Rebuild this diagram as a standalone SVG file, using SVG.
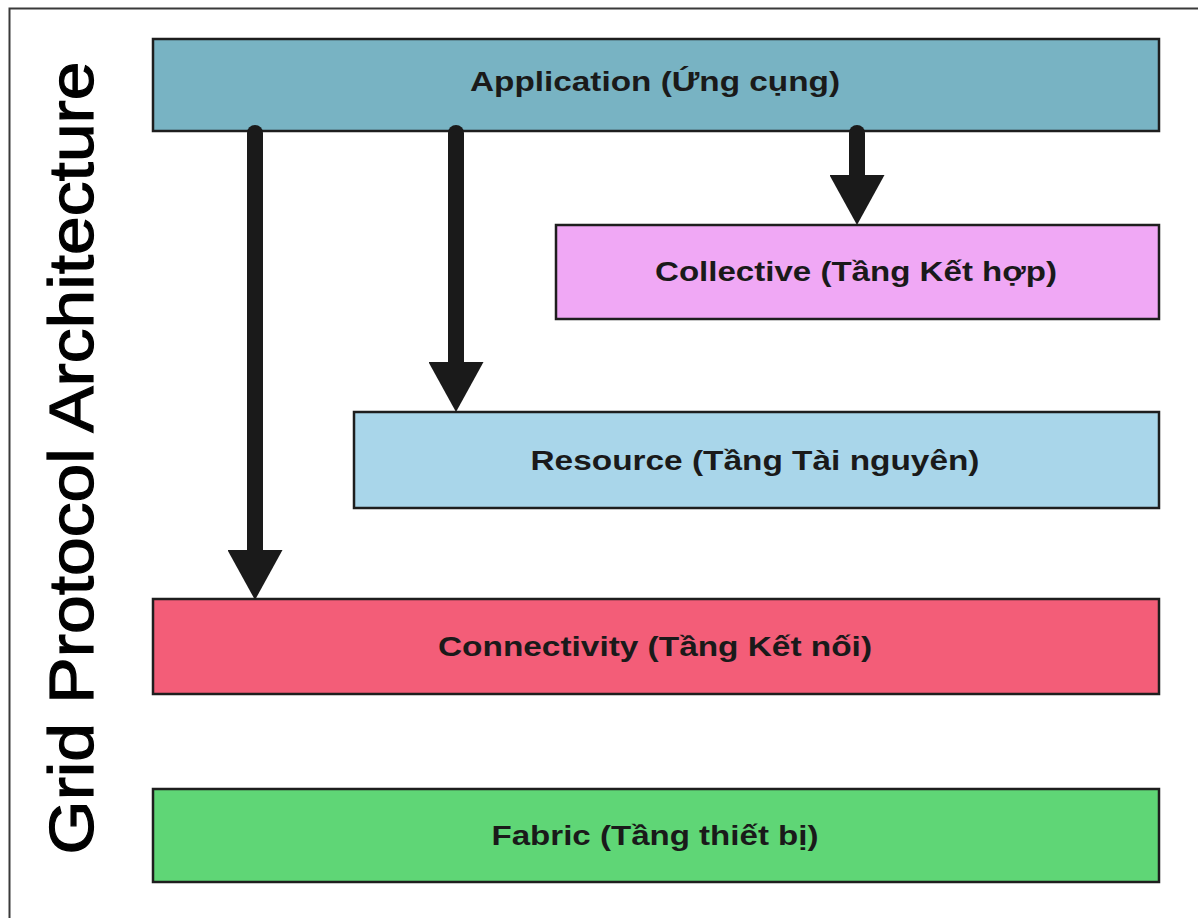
<svg xmlns="http://www.w3.org/2000/svg" width="1198" height="918" viewBox="0 0 1198 918">
<defs>
<style>
.layer{stroke:#1e1e1e;stroke-width:2.5}
.lbl{font-family:"Liberation Sans",Arial,sans-serif;font-weight:bold;font-size:27px;fill:#1a1a1a;text-anchor:middle}
.shaft{stroke:#1a1a1a;stroke-width:16;stroke-linecap:round;fill:none}
</style>
<marker id="head" markerUnits="userSpaceOnUse" markerWidth="50" markerHeight="55" viewBox="0 0 50 55" refX="0" refY="27.5" orient="auto">
<path d="M0,0 L50,27.5 L0,55 z" fill="#1a1a1a"/>
</marker>
</defs>
<rect x="0" y="0" width="1198" height="918" fill="#ffffff"/>
<rect x="9.5" y="8.5" width="1210" height="930" fill="none" stroke="#3a3a3a" stroke-width="2"/>
<text transform="translate(93,458) rotate(-90)" font-family="'Liberation Sans',Arial,sans-serif" font-size="63" fill="#000" stroke="#000" stroke-width="1.2" text-anchor="middle" textLength="793" lengthAdjust="spacingAndGlyphs">Grid Protocol Architecture</text>
<g id="application">
<rect class="layer" x="153" y="39" width="1006" height="92" fill="#78b3c3"/>
<text class="lbl" x="655" y="91" textLength="370" lengthAdjust="spacingAndGlyphs">Application (Ứng cụng)</text>
</g>
<g id="collective">
<rect class="layer" x="556" y="225" width="603" height="94" fill="#f0a8f5"/>
<text class="lbl" x="856" y="281" textLength="402" lengthAdjust="spacingAndGlyphs">Collective (Tầng Kết hợp)</text>
</g>
<g id="resource">
<rect class="layer" x="354" y="412" width="805" height="96" fill="#a9d6ea"/>
<text class="lbl" x="755" y="470" textLength="449" lengthAdjust="spacingAndGlyphs">Resource (Tầng Tài nguyên)</text>
</g>
<g id="connectivity">
<rect class="layer" x="153" y="599" width="1006" height="95" fill="#f35d78"/>
<text class="lbl" x="655" y="656" textLength="434" lengthAdjust="spacingAndGlyphs">Connectivity (Tầng Kết nối)</text>
</g>
<g id="fabric">
<rect class="layer" x="153" y="789" width="1006" height="93" fill="#5fd676"/>
<text class="lbl" x="655" y="845" textLength="327" lengthAdjust="spacingAndGlyphs">Fabric (Tầng thiết bị)</text>
</g>
<g id="connectors">
<line class="shaft" x1="255" y1="133" x2="255" y2="550" marker-end="url(#head)"/>
<line class="shaft" x1="456" y1="133" x2="456" y2="362" marker-end="url(#head)"/>
<line class="shaft" x1="857" y1="133" x2="857" y2="175" marker-end="url(#head)"/>
</g>
</svg>
